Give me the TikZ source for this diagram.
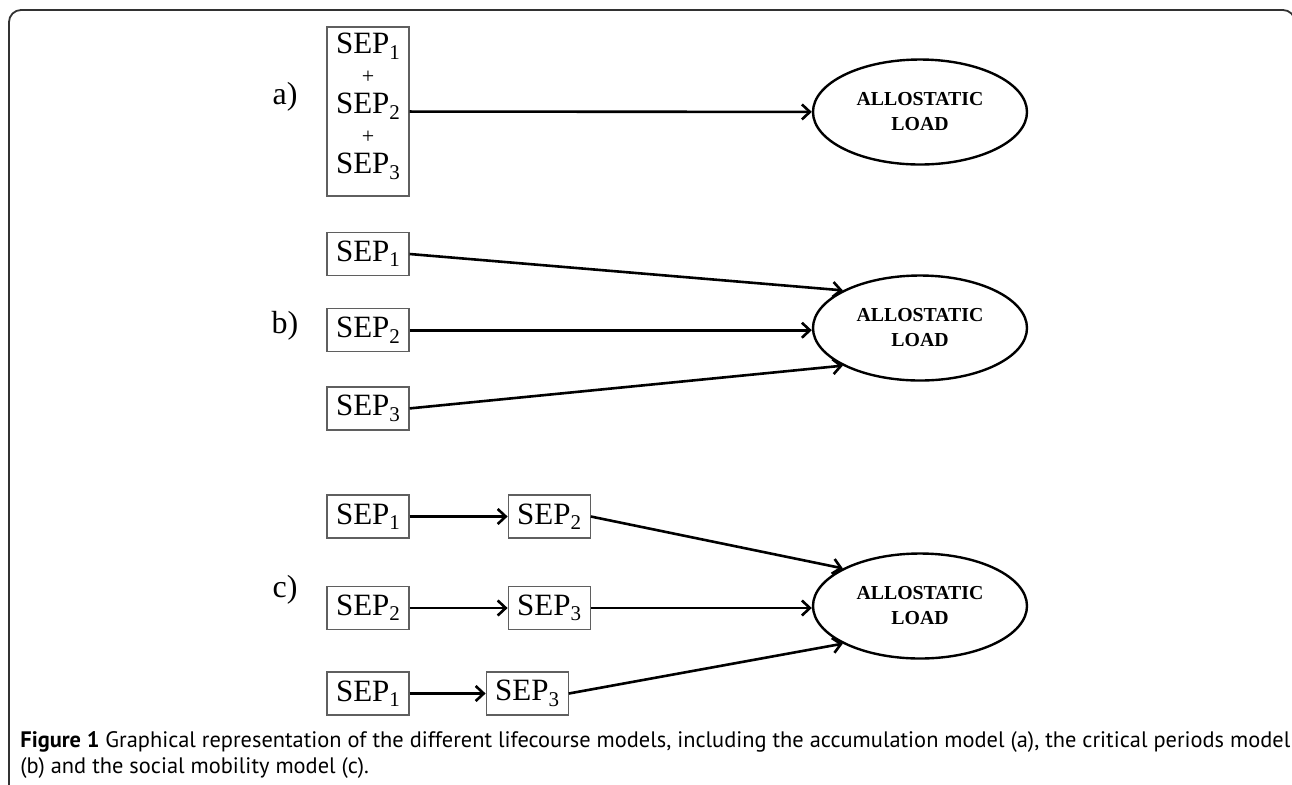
\documentclass[tikz,border=0pt]{standalone}
\usepackage{fontspec}
\setmainfont{Liberation Serif}
\newfontfamily\capfont{PT Sans}
\usetikzlibrary{arrows.meta, positioning, shapes.geometric}
\definecolor{framegray}{RGB}{50,50,50}
\definecolor{boxgray}{RGB}{95,95,95}
\newcommand{\sepsub}[1]{SEP\raisebox{-2.7pt}{\fontsize{10.5}{11}\selectfont #1}}

\begin{document}
\begin{tikzpicture}[
        x=0.5pt, y=-0.5pt,
        node distance=16pt,
        every node/.style={font=\fontsize{15.5}{15}\selectfont},
        sepbox/.style={rectangle, draw=boxgray, line width=0.6pt, minimum width=41pt, minimum height=21.5pt, inner sep=0pt},
        loadell/.style={ellipse, draw, line width=1.2pt, minimum width=107pt, minimum height=52.5pt, inner sep=0pt, align=center, font=\fontsize{9.9}{12.5}\selectfont\bfseries},
        arr/.style={-{Straight Barb[length=4pt,width=7.5pt]}, line width=1.3pt},
        lbl/.style={font=\fontsize{16}{16}\selectfont}
    ]
    \useasboundingbox (0,0) rectangle (1292,784);
    % outer frame
    \draw[framegray, line width=0.9pt, rounded corners=6pt] (9,800) -- (9,10) -- (1295,10) -- (1295,800);

    % a) accumulation
    \node[lbl] (la) at (285,97) {a)};
    \node[sepbox, minimum height=84.5pt, align=center] (acc) at (368,111.5)
        {\sepsub{1}\\{\fontsize{11}{15}\selectfont +}\\\sepsub{2}\\{\fontsize{11}{15}\selectfont +}\\\sepsub{3}\rule[-8pt]{0pt}{8pt}};
    \node[loadell] (ella) at (920,112) {ALLOSTATIC\\LOAD};
    \draw[arr] (acc) -- (ella);

    % b) critical periods
    \node[lbl] (lb) at (285,326) {b)};
    \node[sepbox] (b1) at (368,254) {\sepsub{1}};
    \node[sepbox, below=of b1] (b2) {\sepsub{2}};
    \node[sepbox, below=17pt of b2] (b3) {\sepsub{3}};
    \node[loadell] (ellb) at (920,328) {ALLOSTATIC\\LOAD};
    \draw[arr] (b1.east) -- (ellb.154);
    \draw[arr] (b2.east) -- (b2.east -| ellb.west);
    \draw[arr] (b3.east) -- (ellb.206);

    % c) social mobility
    \node[lbl] (lc) at (285,590) {c)};
    \node[sepbox] (c1a) at (368,516.5) {\sepsub{1}};
    \node[sepbox, right=49pt of c1a] (c1b) {\sepsub{2}};
    \node[sepbox] (c2a) at (368,608) {\sepsub{2}};
    \node[sepbox, right=49pt of c2a] (c2b) {\sepsub{3}};
    \node[sepbox] (c3a) at (368,693.5) {\sepsub{1}};
    \node[sepbox, right=38pt of c3a] (c3b) {\sepsub{3}};
    \node[loadell] (ellc) at (920,606) {ALLOSTATIC\\LOAD};
    \draw[arr] (c1a) -- (c1b);
    \draw[arr] (c2a) -- (c2b);
    \draw[arr] (c3a) -- (c3b);
    \draw[arr] (c1b.east) -- (ellc.154);
    \draw[arr] (c2b.east) -- (c2b.east -| ellc.west);
    \draw[arr] (c3b.east) -- (ellc.206);

    % caption
    \node[anchor=west, align=left, inner sep=0pt, font=\capfont\fontsize{11.2}{13.3}\selectfont] (cap) at (20,755)
        {\textbf{Figure 1} Graphical representation of the different lifecourse models, including the accumulation model (a), the critical periods model\\(b) and the social mobility model (c).};
\end{tikzpicture}
\end{document}
